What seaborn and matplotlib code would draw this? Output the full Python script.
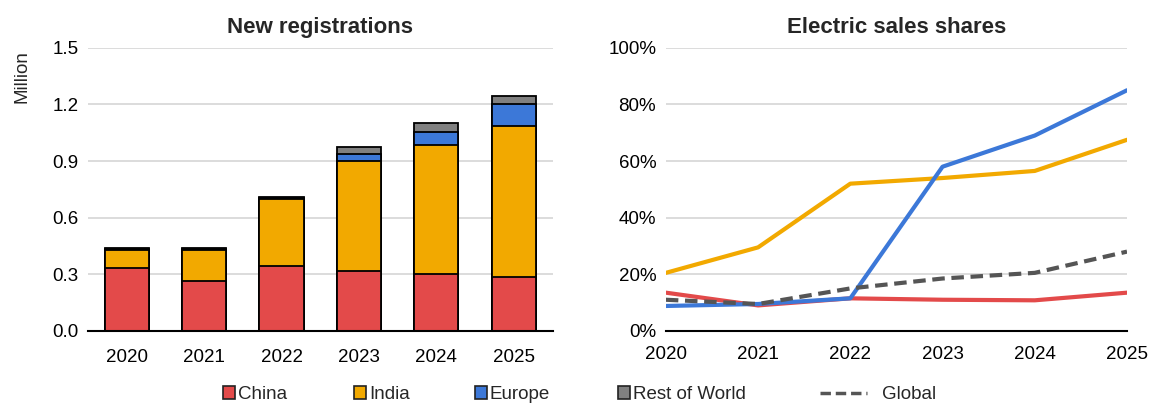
import numpy as np
import pandas as pd
import matplotlib
matplotlib.use("Agg")
import matplotlib.pyplot as plt
import seaborn as sns
from matplotlib.patches import Patch
from matplotlib.lines import Line2D
from matplotlib.ticker import FuncFormatter

# Data
years = ["2020", "2021", "2022", "2023", "2024", "2025"]
china_reg = [0.335, 0.265, 0.345, 0.316, 0.300, 0.285]
india_reg = [0.095, 0.165, 0.355, 0.583, 0.686, 0.798]
europe_reg = [0.002, 0.002, 0.004, 0.039, 0.070, 0.117]
row_reg = [0.006, 0.006, 0.008, 0.037, 0.044, 0.044]

share_years = [2020, 2021, 2022, 2023, 2024, 2025]
china_share = [13.5, 9.0, 11.5, 11.0, 10.8, 13.5]
india_share = [20.5, 29.5, 52.0, 54.0, 56.5, 67.5]
europe_share = [8.8, 9.5, 11.5, 58.0, 69.0, 85.0]
global_share = [11.0, 9.5, 15.0, 18.5, 20.5, 28.0]

colors = {"China": "#E34A4A", "India": "#F2A900", "Europe": "#3C78D8",
          "Rest of World": "#808080", "Global": "#555555"}

sns.set_theme(style="white")
plt.rcParams["font.family"] = ["Liberation Sans", "DejaVu Sans"]

fig = plt.figure(figsize=(11.5, 4.05), dpi=100)
ax1 = fig.add_axes([0.0765, 0.183, 0.404, 0.699])
ax2 = fig.add_axes([0.579, 0.183, 0.401, 0.699])

# stacked bars: draw cumulative totals from the top down
df = pd.DataFrame({"year": years, "China": china_reg, "India": india_reg,
                   "Europe": europe_reg, "Rest of World": row_reg})
order = ["China", "India", "Europe", "Rest of World"]
cum = df[order].cumsum(axis=1)
for name in reversed(order):
    sns.barplot(x=df["year"], y=cum[name], color=colors[name], width=0.57,
                edgecolor="black", linewidth=1.3, saturation=1, ax=ax1)

ax1.set_ylim(0, 1.5)
ax1.set_xlim(-0.5, 5.5)
ax1.set_yticks(np.arange(0, 1.51, 0.3))
ax1.yaxis.set_major_formatter(FuncFormatter(lambda v, p: f"{v:.1f}"))
ax1.set_xlabel("")
ax1.set_ylabel("")
ax1.set_title("New registrations", fontsize=16, fontweight="bold", pad=11)
fig.text(0.019, 0.812, "Million", rotation=90, fontsize=13.5, ha="center", va="center")

# lines
lines = {"China": china_share, "India": india_share, "Europe": europe_share}
for name, vals in lines.items():
    sns.lineplot(x=share_years, y=vals, color=colors[name], linewidth=3, ax=ax2)
sns.lineplot(x=share_years, y=global_share, color=colors["Global"], linewidth=3,
             linestyle=(0, (3, 1.6)), ax=ax2)
ax2.set_xlim(2020, 2025)
ax2.set_ylim(0, 100)
ax2.set_yticks(np.arange(0, 101, 20))
ax2.set_xticks(share_years)
ax2.yaxis.set_major_formatter(FuncFormatter(lambda v, p: f"{v:.0f}%"))
ax2.set_title("Electric sales shares", fontsize=16, fontweight="bold", pad=11)

for ax in (ax1, ax2):
    ax.grid(axis="y", color="#D9D9D9", linewidth=1.3)
    ax.set_axisbelow(True)
    for s in ("top", "right", "left"):
        ax.spines[s].set_visible(False)
    ax.spines["bottom"].set_color("black")
    ax.spines["bottom"].set_linewidth(1.5)
    ax.tick_params(axis="both", length=0, labelsize=13.5, colors="black")
    ax.tick_params(axis="y", pad=7)
ax1.tick_params(axis="x", pad=13)
ax2.tick_params(axis="x", pad=11)

# legend entries placed one by one, like the reference
handles = [Patch(facecolor=colors[n], edgecolor="#222222", linewidth=1.2) for n in order]
handles.append(Line2D([0], [0], color=colors["Global"], linewidth=2.5, linestyle=(0, (3, 1.4))))
labels = order + ["Global"]
xpos = [0.194, 0.308, 0.413, 0.537, 0.713]
for h, lab, x in zip(handles, labels, xpos):
    is_line = lab == "Global"
    fig.legend([h], [lab], loc="center left", bbox_to_anchor=(x, 0.026), frameon=False,
               fontsize=13.5, handlelength=2.5 if is_line else 0.65, handleheight=0.65,
               handletextpad=0.8 if is_line else 0.15, borderpad=0, borderaxespad=0)

fig.savefig("out.png", dpi=100)
